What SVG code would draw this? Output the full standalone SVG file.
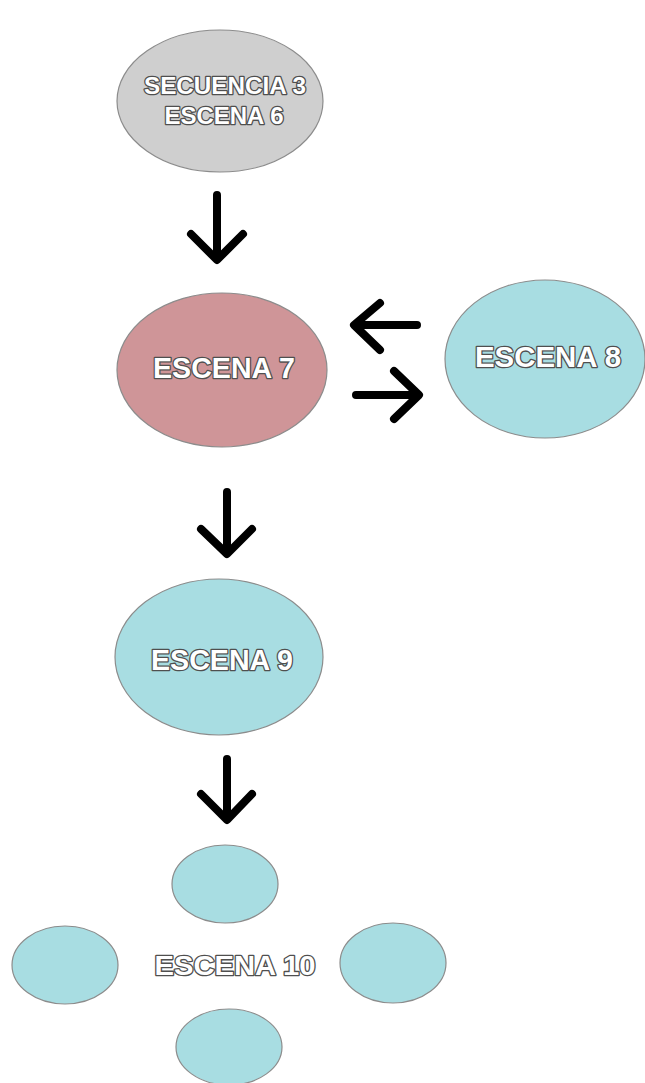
<svg xmlns="http://www.w3.org/2000/svg" width="645" height="1083" viewBox="0 0 645 1083">
  <style>
    .node { stroke: #8c8c8c; stroke-width: 1.2; }
    .gray { fill: #cfcfcf; }
    .rose { fill: #cf9598; }
    .aqua { fill: #a8dde2; }
    .label { font-family: "Liberation Sans", Arial, sans-serif; font-weight: bold; fill: #ffffff; stroke: #4f4f4f; stroke-width: 2.6; paint-order: stroke; stroke-linejoin: round; text-anchor: middle; }
    .arrow { fill: none; stroke: #000000; stroke-width: 8; stroke-linecap: round; stroke-linejoin: round; }
  </style>
  <rect width="645" height="1083" fill="#ffffff"/>

  <g id="secuencia3-escena6">
    <ellipse class="node gray" cx="220" cy="101" rx="103" ry="71"/>
    <text class="label" x="225" y="94" font-size="24" textLength="162" lengthAdjust="spacingAndGlyphs">SECUENCIA 3</text>
    <text class="label" x="224" y="124" font-size="24" textLength="119" lengthAdjust="spacingAndGlyphs">ESCENA 6</text>
  </g>

  <g id="escena7">
    <ellipse class="node rose" cx="222" cy="370" rx="105" ry="77"/>
    <text class="label" x="224" y="378" font-size="29" textLength="142" lengthAdjust="spacingAndGlyphs">ESCENA 7</text>
  </g>

  <g id="escena8">
    <ellipse class="node aqua" cx="545" cy="359" rx="100" ry="79"/>
    <text class="label" x="548" y="367" font-size="29" textLength="146" lengthAdjust="spacingAndGlyphs">ESCENA 8</text>
  </g>

  <g id="escena9">
    <ellipse class="node aqua" cx="219" cy="657" rx="104" ry="78"/>
    <text class="label" x="222" y="670" font-size="29" textLength="142" lengthAdjust="spacingAndGlyphs">ESCENA 9</text>
  </g>

  <g id="escena10">
    <ellipse class="node aqua" cx="225" cy="884" rx="53" ry="39"/>
    <ellipse class="node aqua" cx="65" cy="965" rx="53" ry="39"/>
    <ellipse class="node aqua" cx="393" cy="963" rx="53" ry="40"/>
    <ellipse class="node aqua" cx="229" cy="1047" rx="53" ry="38"/>
    <text class="label" x="235" y="975" font-size="28" textLength="161" lengthAdjust="spacingAndGlyphs">ESCENA 10</text>
  </g>

  <g id="connectors">
    <!-- 6 to 7 -->
    <path class="arrow" d="M217 195 V259 M191 234 L217 260 L243 234"/>
    <!-- 8 to 7 -->
    <path class="arrow" d="M417 325 H355 M380 303 L354 325 L380 350"/>
    <!-- 7 to 8 -->
    <path class="arrow" d="M356 395 H418 M394 371 L419 395 L394 419"/>
    <!-- 7 to 9 -->
    <path class="arrow" d="M227 492 V552 M201 529 L227 554 L252 529"/>
    <!-- 9 to 10 -->
    <path class="arrow" d="M227 759 V819 M201 794 L227 820 L252 794"/>
  </g>
</svg>
